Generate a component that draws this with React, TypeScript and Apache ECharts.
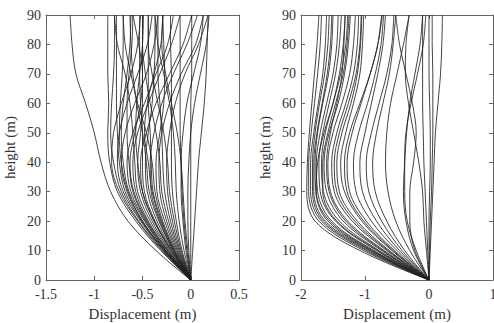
import React, { useEffect, useRef } from "react";
import * as echarts from "echarts";

const HEIGHTS = [0, 10, 20, 30, 40, 50, 60, 70, 80, 90];

const LEFT_X_TICKS = { min: -1.5, max: 0.5, interval: 0.5 };
const RIGHT_X_TICKS = { min: -2, max: 1, interval: 1 };
const Y_TICKS = { min: 0, max: 90, interval: 10 };

const X_NAME = "Displacement (m)";
const Y_NAME = "height (m)";

// Left panel: displacement (m) at each height in HEIGHTS
const leftCurves: number[][] = [
  [0, -0.36, -0.65, -0.83, -0.93, -1.0, -1.09, -1.19, -1.23, -1.25],
  [0, -0.31, -0.57, -0.76, -0.84, -0.86, -0.85, -0.86, -0.86, -0.86],
  [0, -0.3, -0.55, -0.74, -0.82, -0.8, -0.72, -0.62, -0.55, -0.52],
  [0, -0.29, -0.54, -0.72, -0.8, -0.83, -0.82, -0.8, -0.79, -0.79],
  [0, -0.28, -0.52, -0.7, -0.76, -0.74, -0.66, -0.55, -0.45, -0.4],
  [0, -0.28, -0.51, -0.68, -0.74, -0.76, -0.77, -0.77, -0.77, -0.77],
  [0, -0.27, -0.5, -0.66, -0.72, -0.68, -0.58, -0.46, -0.38, -0.34],
  [0, -0.26, -0.48, -0.64, -0.7, -0.72, -0.7, -0.66, -0.63, -0.62],
  [0, -0.26, -0.47, -0.62, -0.66, -0.6, -0.48, -0.36, -0.24, -0.18],
  [0, -0.25, -0.46, -0.6, -0.64, -0.66, -0.66, -0.64, -0.61, -0.6],
  [0, -0.24, -0.44, -0.57, -0.6, -0.55, -0.44, -0.32, -0.2, -0.11],
  [0, -0.23, -0.42, -0.55, -0.58, -0.6, -0.63, -0.68, -0.76, -0.79],
  [0, -0.22, -0.4, -0.52, -0.55, -0.52, -0.5, -0.5, -0.5, -0.5],
  [0, -0.21, -0.38, -0.5, -0.52, -0.46, -0.36, -0.22, -0.08, 0.01],
  [0, -0.2, -0.37, -0.48, -0.5, -0.5, -0.52, -0.53, -0.53, -0.53],
  [0, -0.19, -0.35, -0.45, -0.47, -0.44, -0.4, -0.38, -0.37, -0.37],
  [0, -0.18, -0.33, -0.43, -0.46, -0.5, -0.56, -0.6, -0.62, -0.63],
  [0, -0.18, -0.32, -0.41, -0.42, -0.38, -0.3, -0.18, -0.04, 0.07],
  [0, -0.17, -0.3, -0.39, -0.41, -0.42, -0.44, -0.44, -0.44, -0.44],
  [0, -0.16, -0.29, -0.37, -0.4, -0.46, -0.55, -0.62, -0.68, -0.7],
  [0, -0.15, -0.27, -0.35, -0.36, -0.32, -0.28, -0.27, -0.28, -0.29],
  [0, -0.14, -0.25, -0.32, -0.33, -0.3, -0.22, -0.1, 0.05, 0.13],
  [0, -0.13, -0.23, -0.3, -0.32, -0.36, -0.42, -0.47, -0.5, -0.5],
  [0, -0.12, -0.21, -0.27, -0.29, -0.3, -0.32, -0.34, -0.34, -0.34],
  [0, -0.11, -0.19, -0.24, -0.25, -0.22, -0.16, -0.06, 0.08, 0.18],
  [0, -0.1, -0.17, -0.22, -0.24, -0.28, -0.34, -0.4, -0.44, -0.44],
  [0, -0.09, -0.15, -0.19, -0.2, -0.2, -0.2, -0.2, -0.21, -0.21],
  [0, -0.07, -0.12, -0.15, -0.16, -0.18, -0.22, -0.28, -0.34, -0.37],
  [0, -0.05, -0.08, -0.1, -0.1, -0.08, -0.04, 0.03, 0.1, 0.13],
  [0, -0.04, -0.07, -0.09, -0.1, -0.11, -0.11, -0.11, -0.11, -0.11],
  [0, -0.02, -0.03, -0.03, -0.02, 0.0, 0.04, 0.1, 0.16, 0.19],
  [0, 0.0, 0.0, 0.0, 0.0, 0.0, 0.0, 0.01, 0.01, 0.01],
  [0, 0.02, 0.04, 0.06, 0.08, 0.11, 0.14, 0.16, 0.17, 0.18],
  [0, -0.03, -0.06, -0.08, -0.1, -0.14, -0.2, -0.26, -0.3, -0.29],
  [0, -0.2, -0.38, -0.5, -0.55, -0.57, -0.56, -0.53, -0.5, -0.49],
  [0, -0.24, -0.45, -0.59, -0.63, -0.58, -0.52, -0.5, -0.54, -0.6],
  [0, -0.27, -0.5, -0.65, -0.72, -0.74, -0.73, -0.71, -0.7, -0.7],
  [0, -0.17, -0.31, -0.4, -0.44, -0.48, -0.45, -0.38, -0.31, -0.29],
];

// Right panel: displacement (m) at each height in HEIGHTS
const rightCurves: number[][] = [
  [0, -1.08, -1.78, -1.91, -1.9, -1.87, -1.83, -1.79, -1.75, -1.72],
  [0, -1.02, -1.72, -1.88, -1.88, -1.84, -1.79, -1.74, -1.7, -1.68],
  [0, -0.98, -1.68, -1.85, -1.85, -1.8, -1.73, -1.66, -1.62, -1.6],
  [0, -0.95, -1.65, -1.82, -1.82, -1.78, -1.71, -1.63, -1.58, -1.56],
  [0, -0.92, -1.62, -1.8, -1.8, -1.75, -1.67, -1.59, -1.54, -1.52],
  [0, -0.9, -1.58, -1.77, -1.78, -1.74, -1.66, -1.57, -1.52, -1.5],
  [0, -0.86, -1.52, -1.74, -1.76, -1.7, -1.6, -1.5, -1.44, -1.42],
  [0, -0.82, -1.46, -1.7, -1.72, -1.66, -1.56, -1.46, -1.4, -1.37],
  [0, -0.78, -1.4, -1.65, -1.68, -1.62, -1.5, -1.4, -1.34, -1.31],
  [0, -0.74, -1.34, -1.6, -1.64, -1.56, -1.42, -1.32, -1.26, -1.23],
  [0, -0.7, -1.27, -1.54, -1.58, -1.5, -1.36, -1.24, -1.18, -1.15],
  [0, -0.66, -1.2, -1.48, -1.52, -1.44, -1.3, -1.18, -1.12, -1.1],
  [0, -0.62, -1.12, -1.4, -1.44, -1.36, -1.22, -1.12, -1.07, -1.05],
  [0, -0.58, -1.05, -1.32, -1.38, -1.3, -1.18, -1.08, -1.04, -1.02],
  [0, -0.54, -0.98, -1.24, -1.28, -1.2, -1.06, -0.92, -0.8, -0.73],
  [0, -0.5, -0.9, -1.14, -1.18, -1.1, -0.96, -0.84, -0.75, -0.71],
  [0, -0.46, -0.82, -1.04, -1.08, -1.0, -0.9, -0.8, -0.72, -0.68],
  [0, -0.42, -0.74, -0.94, -0.98, -0.9, -0.78, -0.66, -0.58, -0.55],
  [0, -0.38, -0.66, -0.84, -0.88, -0.82, -0.72, -0.62, -0.56, -0.52],
  [0, -0.22, -0.3, -0.3, -0.24, -0.2, -0.26, -0.36, -0.46, -0.52],
  [0, -0.3, -0.52, -0.64, -0.68, -0.66, -0.6, -0.5, -0.4, -0.31],
  [0, -0.24, -0.36, -0.4, -0.38, -0.35, -0.3, -0.22, -0.14, -0.1],
  [0, -0.2, -0.34, -0.38, -0.38, -0.36, -0.28, -0.18, -0.09, -0.05],
  [0, -0.04, -0.08, -0.1, -0.16, -0.24, -0.32, -0.37, -0.36, -0.31],
  [0, 0.0, 0.0, 0.01, 0.02, 0.02, 0.01, 0.0, 0.0, 0.0],
  [0, 0.02, 0.04, 0.06, 0.08, 0.1, 0.14, 0.18, 0.2, 0.21],
  [0, 0.01, 0.02, 0.04, 0.05, 0.06, 0.06, 0.06, 0.05, 0.05],
  [0, -0.02, -0.04, -0.06, -0.08, -0.09, -0.1, -0.1, -0.1, -0.1],
  [0, -0.88, -1.55, -1.76, -1.74, -1.64, -1.5, -1.38, -1.3, -1.27],
  [0, -0.8, -1.44, -1.66, -1.66, -1.58, -1.46, -1.34, -1.28, -1.25],
  [0, -0.72, -1.3, -1.56, -1.6, -1.54, -1.44, -1.36, -1.33, -1.31],
  [0, -0.64, -1.16, -1.44, -1.48, -1.4, -1.26, -1.14, -1.08, -1.06],
  [0, -0.56, -1.02, -1.28, -1.32, -1.24, -1.08, -0.92, -0.8, -0.74],
];

const FONT = "'Liberation Serif', 'Times New Roman', serif";
const AXIS_COLOR = "#666";
const TEXT_COLOR = "#333";
const LINE_COLOR = "#222";

function buildAxes(gridIndex: number, xt: { min: number; max: number; interval: number }) {
  const axisLine = { show: true, onZero: false, lineStyle: { color: AXIS_COLOR, width: 1 } };
  const axisTick = { show: true, inside: true, length: 4, lineStyle: { color: AXIS_COLOR } };
  const label = { color: TEXT_COLOR, fontFamily: FONT, fontSize: 14 };
  const nameStyle = { color: TEXT_COLOR, fontFamily: FONT, fontSize: 15 };
  const xAxes = [
    {
      gridIndex, type: "value", position: "bottom", ...xt,
      name: X_NAME, nameLocation: "middle", nameGap: 26, nameTextStyle: nameStyle,
      axisLine, axisTick, splitLine: { show: false },
      axisLabel: { ...label, margin: 7, hideOverlap: false, showMinLabel: true, showMaxLabel: true },
    },
    {
      gridIndex, type: "value", position: "top", ...xt,
      axisLine, axisTick, splitLine: { show: false }, axisLabel: { show: false },
    },
  ];
  const yAxes = [
    {
      gridIndex, type: "value", position: "left", ...Y_TICKS,
      name: Y_NAME, nameLocation: "middle", nameGap: 29, nameTextStyle: nameStyle,
      axisLine, axisTick, splitLine: { show: false },
      axisLabel: { ...label, margin: 5 },
    },
    {
      gridIndex, type: "value", position: "right", ...Y_TICKS,
      axisLine, axisTick, splitLine: { show: false }, axisLabel: { show: false },
    },
  ];
  return { xAxes, yAxes };
}

export default function App() {
  const ref = useRef<HTMLDivElement>(null);
  useEffect(() => {
    if (!ref.current) return;
    const chart = echarts.init(ref.current, null, { renderer: "svg" });
    const a = buildAxes(0, LEFT_X_TICKS);
    const b = buildAxes(1, RIGHT_X_TICKS);
    const mk = (curves: number[][], axisIdx: number) =>
      curves.map((c) => ({
        type: "line",
        xAxisIndex: axisIdx,
        yAxisIndex: axisIdx,
        data: c.map((x, i) => [x, HEIGHTS[i]]),
        smooth: 0.35,
        showSymbol: false,
        silent: true,
        lineStyle: { color: LINE_COLOR, width: 1, opacity: 0.85 },
      }));
    chart.setOption({
      animation: false,
      backgroundColor: "#fff",
      grid: [
        { left: 46, top: 15, width: 193, height: 265, outerBoundsMode: "none", containLabel: false },
        { left: 301, top: 15, width: 192, height: 265, outerBoundsMode: "none", containLabel: false },
      ],
      xAxis: [...a.xAxes, ...b.xAxes],
      yAxis: [...a.yAxes, ...b.yAxes],
      series: [...mk(leftCurves, 0), ...mk(rightCurves, 2)],
    });
    return () => chart.dispose();
  }, []);
  return (
    <div
      ref={ref}
      style={{ position: "fixed", left: 0, top: 0, width: 494, height: 323 }}
    />
  );
}
